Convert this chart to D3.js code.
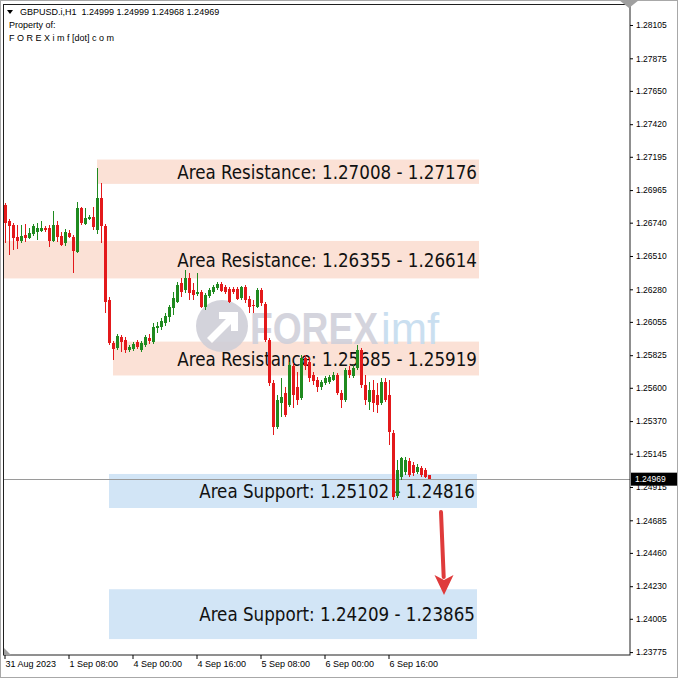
<!DOCTYPE html>
<html><head><meta charset="utf-8">
<script src="https://cdn.jsdelivr.net/npm/d3@7"></script>
<style>body{margin:0;background:#fff;} svg{display:block;}</style>
</head><body><svg id="c" width="678" height="678"></svg>
<script>
// ---------- DATA ----------
const symbolInfo = "GBPUSD.i,H1";
const headerOHLC = [1.24999, 1.24999, 1.24968, 1.24969];
const propertyLines = ["Property of:", "F O R E X i m f [dot] c o m"];

const open = [1.26862,1.26752,1.26724,1.26642,1.26614,1.26655,1.26635,1.26662,1.26676,1.26683,
1.26704,1.26704,1.26614,1.26724,1.26649,1.26600,1.26669,1.26642,1.26538,1.26842,
1.26731,1.26766,1.26780,1.26690,1.26911,1.26718,1.26206,1.25909,1.25875,1.25951,
1.25930,1.25861,1.25868,1.25916,1.25861,1.25896,1.25944,1.25916,1.26013,1.26020,
1.26047,1.26089,1.26151,1.26192,1.26323,1.26275,1.26358,1.26275,1.26247,1.26261,
1.26158,1.26233,1.26261,1.26289,1.26316,1.26296,1.26282,1.26282,1.26282,1.26220,
1.26296,1.26213,1.26172,1.26158,1.26275,1.26178,1.25930,1.25633,1.25329,1.25495,
1.25564,1.25481,1.25751,1.25606,1.25530,1.25806,1.25778,1.25689,1.25654,1.25606,
1.25633,1.25640,1.25654,1.25689,1.25564,1.25516,1.25723,1.25682,1.25737,1.25861,
1.25620,1.25502,1.25585,1.25551,1.25495,1.25640,1.25551,1.25288,1.24853,1.24984,
1.25018,1.25094,1.25066,1.25018,1.25046,1.25032,1.24999];
const high = [1.26876,1.26766,1.26738,1.26724,1.26724,1.26731,1.26704,1.26731,1.26738,1.26752,
1.26718,1.26724,1.26821,1.26752,1.26676,1.26697,1.26690,1.26655,1.26883,1.26849,
1.26842,1.26793,1.26849,1.27118,1.27014,1.26731,1.26227,1.25923,1.25972,1.25965,
1.25951,1.25896,1.25916,1.25930,1.25923,1.25965,1.25972,1.26047,1.26054,1.26082,
1.26116,1.26172,1.26261,1.26330,1.26358,1.26413,1.26392,1.26323,1.26392,1.26275,
1.26254,1.26289,1.26309,1.26330,1.26330,1.26309,1.26296,1.26296,1.26296,1.26303,
1.26309,1.26233,1.26206,1.26289,1.26289,1.26192,1.25944,1.25654,1.25550,1.25668,
1.25606,1.25778,1.25771,1.25709,1.25827,1.25827,1.25813,1.25709,1.25675,1.25654,
1.25682,1.25689,1.25709,1.25702,1.25585,1.25737,1.25751,1.25758,1.25896,1.25875,
1.25689,1.25640,1.25654,1.25633,1.25668,1.25668,1.25654,1.25308,1.25101,1.25122,
1.25122,1.25115,1.25087,1.25073,1.25060,1.25046,1.24999];
const low = [1.26600,1.26517,1.26552,1.26559,1.26600,1.26607,1.26628,1.26649,1.26621,1.26676,
1.26676,1.26573,1.26607,1.26607,1.26580,1.26580,1.26635,1.26392,1.26531,1.26724,
1.26724,1.26759,1.26690,1.26662,1.26600,1.26116,1.25896,1.25792,1.25861,1.25847,
1.25840,1.25847,1.25854,1.25868,1.25847,1.25882,1.25902,1.25902,1.25978,1.25999,
1.26027,1.26054,1.26103,1.26185,1.26227,1.26254,1.26206,1.26206,1.26233,1.26151,
1.26137,1.26220,1.26247,1.26275,1.26261,1.26247,1.26185,1.26247,1.26206,1.26206,
1.26185,1.26116,1.26116,1.26151,1.26165,1.25916,1.25613,1.25273,1.25315,1.25399,
1.25399,1.25467,1.25461,1.25481,1.25516,1.25723,1.25640,1.25620,1.25571,1.25585,
1.25620,1.25627,1.25647,1.25551,1.25461,1.25502,1.25668,1.25668,1.25723,1.25599,
1.25481,1.25447,1.25433,1.25426,1.25481,1.25502,1.25205,1.24825,1.24839,1.24963,
1.24998,1.24984,1.24991,1.25004,1.24984,1.24977,1.24968];
const close = [1.26738,1.26718,1.26635,1.26614,1.26649,1.26635,1.26669,1.26718,1.26704,1.26704,
1.26690,1.26614,1.26724,1.26642,1.26587,1.26676,1.26642,1.26545,1.26842,1.26738,
1.26773,1.26780,1.26711,1.26911,1.26718,1.26192,1.25909,1.25868,1.25958,1.25916,
1.25861,1.25882,1.25902,1.25882,1.25909,1.25951,1.25923,1.26020,1.26027,1.26061,
1.26096,1.26158,1.26220,1.26309,1.26261,1.26358,1.26254,1.26240,1.26261,1.26158,
1.26240,1.26275,1.26296,1.26316,1.26268,1.26261,1.26192,1.26261,1.26213,1.26296,
1.26206,1.26158,1.26165,1.26275,1.26185,1.25930,1.25633,1.25329,1.25516,1.25537,
1.25413,1.25758,1.25551,1.25516,1.25806,1.25751,1.25668,1.25647,1.25606,1.25640,
1.25668,1.25675,1.25689,1.25564,1.25516,1.25723,1.25689,1.25737,1.25861,1.25620,
1.25516,1.25585,1.25495,1.25481,1.25640,1.25516,1.25295,1.24846,1.25032,1.25115,
1.25101,1.24998,1.25011,1.25053,1.24998,1.24984,1.24969];

const xTickIndex = [0, 16, 32, 48, 64, 80, 96];
const xTickLabels = ["31 Aug 2023", "1 Sep 08:00", "4 Sep 00:00", "4 Sep 16:00", "5 Sep 08:00", "6 Sep 00:00", "6 Sep 16:00"];
const yTicks = [1.28105,1.27875,1.27650,1.27420,1.27195,1.26965,1.26740,1.26510,1.26280,1.26055,
1.25825,1.25600,1.25370,1.25145,1.24915,1.24685,1.24460,1.24230,1.24005,1.23775];
const currentPrice = 1.24969;

// zones: drawn price bounds, bar-index extents, labels
const zoneKind  = ["res", "res", "res", "sup", "sup"];
const zoneLow   = [1.27008, 1.26355, 1.25685, 1.24770, 1.23865];
const zoneHigh  = [1.27176, 1.26614, 1.25919, 1.25005, 1.24209];
const zoneFrom  = [23, -0.25, 27, 26, 26];
const zoneTo    = [118.5, 118.5, 118.5, 118, 118];
const zoneLabel = ["Area Resistance: 1.27008 - 1.27176", "Area Resistance: 1.26355 - 1.26614",
  "Area Resistance: 1.25685 - 1.25919", "Area Support: 1.25102 - 1.24816", "Area Support: 1.24209 - 1.23865"];
// arrow: [bar index, price] start and end
const arrowFrom = [109, 1.24742];
const arrowTo = [109.75, 1.24169];

// ---------- DRAW ----------
const W = 678, H = 678;
const svg = d3.select("#c");
const plot = {l: 4, r: 630, t: 5, b: 655};
const x = d3.scaleLinear().domain([-0.25, 156]).range([4, 629]);
const y = d3.scaleLinear().domain([1.23755, 1.28243]).range([655, 5]);

svg.append("rect").attr("width", W).attr("height", H).attr("fill", "#fff");

svg.append("defs").append("clipPath").attr("id", "pc")
  .append("rect").attr("x", plot.l).attr("y", plot.t).attr("width", plot.r - plot.l).attr("height", plot.b - plot.t);
const g = svg.append("g").attr("clip-path", "url(#pc)");

// zones
const zones = zoneLow.map((lo, i) => ({lo, hi: zoneHigh[i], kind: zoneKind[i], from: zoneFrom[i], to: zoneTo[i], label: zoneLabel[i]}));
g.selectAll("rect.zone").data(zones).enter().append("rect")
  .attr("x", d => x(d.from)).attr("width", d => x(d.to) - x(d.from))
  .attr("y", d => y(d.hi)).attr("height", d => y(d.lo) - y(d.hi))
  .attr("fill", d => d.kind === "res" ? "#fbe1d6" : "#d2e5f6");

// watermark
const wm = g.append("g").attr("opacity", 0.9);
wm.append("circle").attr("cx", 222).attr("cy", 326).attr("r", 26).attr("fill", "#cfcfd8");
wm.append("path").attr("d", "M207,338 L226,319 L219,319 L219,312 L238,312 L238,331 L231,331 L231,324 L212,343 Z").attr("fill", "#fff");
wm.append("text").attr("x", 250).attr("y", 344).attr("font-family", "Liberation Sans, Arial, sans-serif")
  .attr("font-weight", "bold").attr("font-size", 44).attr("fill", "#d0d0da")
  .attr("textLength", 128).attr("lengthAdjust", "spacingAndGlyphs").text("FOREX");
wm.append("text").attr("x", 381).attr("y", 344).attr("font-family", "Liberation Sans, Arial, sans-serif")
  .attr("font-size", 44).attr("fill", "#c5dcef")
  .attr("textLength", 58).attr("lengthAdjust", "spacingAndGlyphs").text("imf");

// zone labels
g.selectAll("text.zl").data(zones).enter().append("text")
  .attr("x", d => x(d.to) - 2).attr("y", d => (y(d.hi) + y(d.lo)) / 2 + 7)
  .attr("text-anchor", "end").attr("font-family", "DejaVu Sans Condensed, DejaVu Sans, sans-serif")
  .attr("font-size", 18.6).attr("fill", "#111").text(d => d.label);

// current price line
g.append("line").attr("x1", plot.l).attr("x2", plot.r).attr("y1", Math.round(y(currentPrice)) + 0.5).attr("y2", Math.round(y(currentPrice)) + 0.5)
  .attr("stroke", "#9a9a9a").attr("stroke-width", 1);

// candles
const bars = open.map((o, i) => ({i, o, h: high[i], l: low[i], c: close[i]}));
const col = d => d.c > d.o ? "#1f8a1f" : (d.c < d.o ? "#e3191b" : "#000");
const cg = g.append("g").attr("shape-rendering", "crispEdges");
cg.selectAll("line.w").data(bars).enter().append("line")
  .attr("x1", d => Math.round(x(d.i)) + 0.5).attr("x2", d => Math.round(x(d.i)) + 0.5)
  .attr("y1", d => y(d.h)).attr("y2", d => y(d.l)).attr("stroke", col).attr("stroke-width", 1);
cg.selectAll("rect.b").data(bars).enter().append("rect")
  .attr("x", d => Math.round(x(d.i)) - 1).attr("width", 3)
  .attr("y", d => y(Math.max(d.o, d.c))).attr("height", d => Math.max(1, Math.abs(y(d.o) - y(d.c))))
  .attr("fill", col);

// arrow
const ax1 = x(arrowFrom[0]), ay1 = y(arrowFrom[1]), ax2 = x(arrowTo[0]), ay2 = y(arrowTo[1]);
g.append("line").attr("x1", ax1).attr("y1", ay1).attr("x2", ax2 - 0.3).attr("y2", ay2 - 18)
  .attr("stroke", "#df3b3b").attr("stroke-width", 4).attr("stroke-linecap", "round");
g.append("path").attr("d", `M${ax2},${ay2} L${ax2 - 9.5},${ay2 - 20} L${ax2},${ay2 - 15} L${ax2 + 9.5},${ay2 - 20} Z`)
  .attr("fill", "#df3b3b");

// frame
svg.append("rect").attr("x", 3.5).attr("y", 4.5).attr("width", plot.r - 3.5).attr("height", plot.b - 4.5)
  .attr("fill", "none").attr("stroke", "#202020").attr("stroke-width", 1);
svg.append("rect").attr("x", 0.5).attr("y", 0.5).attr("width", W - 1).attr("height", H - 1)
  .attr("fill", "none").attr("stroke", "#a8a8a8").attr("stroke-width", 1);
// chart-shift markers
svg.append("path").attr("d", "M619,0 L639,0 L629,8 Z").attr("fill", "#a0a0a0");
svg.append("path").attr("d", "M4,648 L4,655 L11,655 Z").attr("fill", "#a0a0a0");

// y axis
const yAx = svg.append("g").attr("transform", `translate(${plot.r},0)`)
  .call(d3.axisRight(y).tickValues(yTicks).tickSize(3).tickSizeOuter(0).tickPadding(3).tickFormat(d3.format(".5f")));
yAx.select(".domain").remove();
yAx.selectAll("text").attr("font-family", "Liberation Sans, Arial, sans-serif").attr("font-size", 8.5).attr("fill", "#000");
yAx.selectAll("line").attr("stroke", "#000");

// current price tag
const cy = y(currentPrice);
svg.append("rect").attr("x", 631).attr("y", cy - 6.5).attr("width", 46).attr("height", 13).attr("fill", "#000");
svg.append("text").attr("x", 635).attr("y", cy + 3).attr("font-family", "Liberation Sans, Arial, sans-serif")
  .attr("font-size", 8.5).attr("fill", "#fff").text(d3.format(".5f")(currentPrice));

// x axis
const xAx = svg.append("g").attr("transform", `translate(0,${plot.b})`)
  .call(d3.axisBottom(x).tickValues(xTickIndex).tickSize(4).tickSizeOuter(0).tickFormat((d, i) => xTickLabels[i]));
xAx.select(".domain").remove();
xAx.selectAll("line").attr("stroke", "#000").attr("transform", "translate(-0.5,0)");
xAx.selectAll("text").attr("text-anchor", "start").attr("x", 0).attr("dy", 0).attr("y", 12)
  .attr("font-family", "Liberation Sans, Arial, sans-serif").attr("font-size", 9).attr("fill", "#000");

// header
const hdr = svg.append("g").attr("font-family", "Liberation Sans, Arial, sans-serif").attr("font-size", 9).attr("fill", "#000");
hdr.append("path").attr("d", "M7,10 L13,10 L10,14 Z").attr("fill", "#000");
hdr.append("text").attr("x", 20).attr("y", 15).attr("xml:space", "preserve")
  .text(symbolInfo + "  " + headerOHLC.map(d3.format(".5f")).join(" "));
hdr.append("text").attr("x", 9).attr("y", 28).text(propertyLines[0]);
hdr.append("text").attr("x", 9).attr("y", 41).text(propertyLines[1]);
</script></body></html>
